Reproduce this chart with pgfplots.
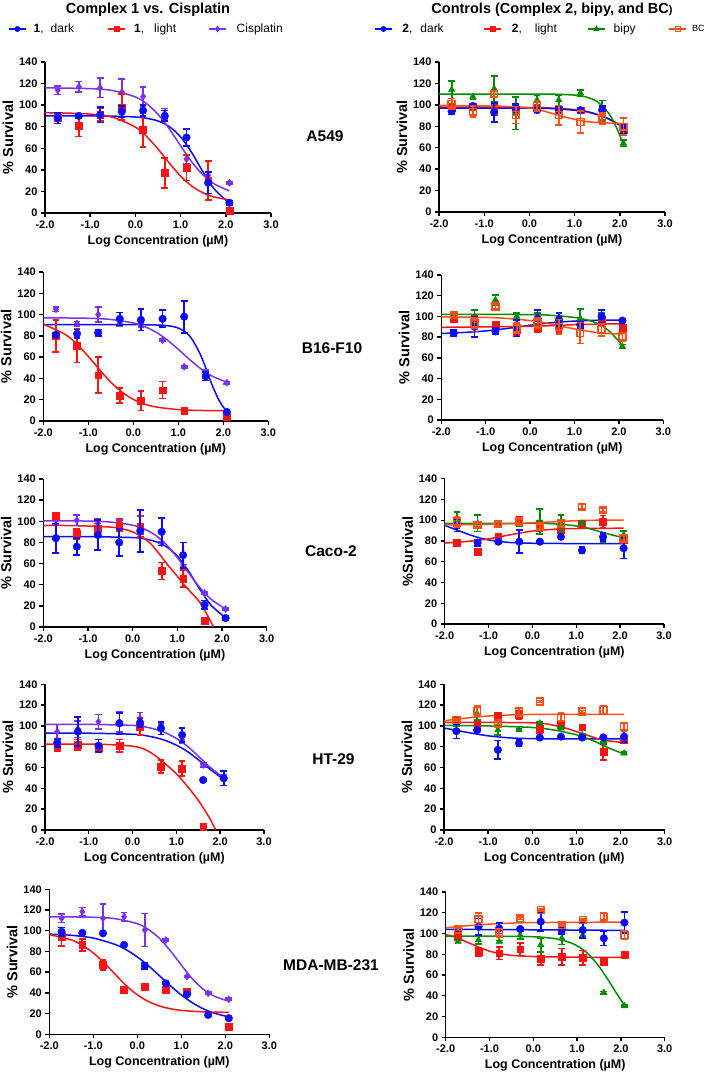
\documentclass[border=0pt]{standalone}
\usepackage{fontspec}
\setmainfont{Liberation Sans}
\usepackage{pgfplots}
\pgfplotsset{compat=1.18}
\definecolor{cB}{RGB}{10,10,255}
\definecolor{cR}{RGB}{250,20,20}
\definecolor{cP}{RGB}{120,50,240}
\definecolor{cG}{RGB}{0,140,0}
\definecolor{cO}{RGB}{255,80,20}
\pgfplotsset{
  panel/.style={scale only axis, anchor=south west, xmin=-2, xmax=3, ymin=0, ymax=140,
    xtick={-2,-1,0,1,2,3}, ytick={0,20,...,140},
    axis x line*=bottom, axis y line*=left,
    axis line style={line width=1.5pt, black, -},
    every outer x axis line/.append style={-}, every outer y axis line/.append style={-},
    every inner x axis line/.append style={-}, every inner y axis line/.append style={-},
    tick style={line width=1.4pt, black},
    major tick length=4pt, tick align=outside,
    tick label style={font=\bfseries\fontsize{11}{12}\selectfont},
    xticklabel style={/pgf/number format/.cd, fixed, fixed zerofill, precision=1},
    /pgf/number format/assume math mode=true,
    clip mode=individual,
    xlabel={Log Concentration (µM)}, ylabel={\% Survival},
    xlabel style={font=\bfseries\fontsize{12.5}{14}\selectfont, at={([yshift=-28pt]axis description cs:0.5,0)}, anchor=center},
    ylabel style={font=\bfseries\fontsize{14.5}{16}\selectfont, at={([xshift=-37pt]axis description cs:0,0.5)}, anchor=center},
    legend image code/.code={\draw[mark repeat=2,mark phase=2] plot coordinates {(0pt,0pt) (8.5pt,0pt) (17pt,0pt)};},
  },
  sb/.style={color=cB, mark=*, mark size=3.8pt},
  sr/.style={color=cR, mark=square*, mark size=3.4pt},
  sp/.style={color=cP, mark=diamond*, mark size=3.6pt},
  sg/.style={color=cG, mark=triangle*, mark size=3.8pt},
  so/.style={color=cO, mark=square, mark size=3.4pt, mark options={line width=1.6pt, fill=none}},
  pts/.style={only marks, forget plot, error bars/y dir=both, error bars/y explicit,
    error bars/error bar style={line width=1.7pt},
    error bars/error mark options={rotate=90, mark size=3.4pt, line width=1.7pt}},
  crv/.style={no marks, smooth, forget plot, line width=1.5pt},
  leg/.style={line width=1.5pt, mark size=2.2pt},
  legstyle/.style={legend columns=-1, legend cell align=left,
    legend style={at={(axis description cs:#1)}, anchor=west, draw=none, fill=none,
      inner sep=0pt, font=\fontsize{12}{14}\selectfont, nodes={inner sep=0pt},
      column sep=0pt, row sep=0pt}},
}
\begin{document}
\begin{tikzpicture}
% ---------------- Row 1: A549 ----------------
\begin{axis}[panel, at={(45pt,864pt)}, width=226pt, height=151pt, legstyle={-0.1637,1.2185}]
\addlegendimage{sb, leg}\addlegendentry{\makebox[81pt][l]{\hspace{7pt}\textbf{1},\hspace{7pt}dark}}
\addlegendimage{sr, leg}\addlegendentry{\makebox[82pt][l]{\hspace{8pt}\textbf{1},\hspace{10pt}light}}
\addlegendimage{sp, leg}\addlegendentry{\hspace{10pt}Cisplatin}
\addplot[sb, crv] coordinates {(-2,90)(-1.5,90)(-1,90)(-0.5,89.8)(0,89)(0.25,87.8)(0.5,85.3)(0.75,80.1)(1,70.6)(1.25,55.7)(1.5,37.8)(1.75,22)(2.08,9)};
\addplot[sr, crv] coordinates {(-2,93)(-1.5,92.6)(-1,91.7)(-0.5,88.7)(0,79.6)(0.25,70.9)(0.5,59.3)(0.75,46.3)(1,34.2)(1.25,24.9)(1.5,18.6)(1.75,14.8)(2.08,12.2)};
\addplot[sp, crv] coordinates {(-2,116)(-1,115.3)(-0.5,113.5)(0,107.6)(0.25,101.3)(0.5,91.5)(0.75,78)(1,62.3)(1.25,47.2)(1.5,35.1)(1.75,26.8)(2.08,20.5)};
\addplot[sp, pts] coordinates {(-1.72,114)+-(0,4) (-1.25,117)+-(0,5) (-0.78,116)+-(0,9) (-0.30,112)+-(0,12) (0.17,108)+-(0,9) (0.65,92)+-(0,5) (1.13,50)+-(0,4) (1.61,35)+-(0,3) (2.08,28)+-(0,1)};
\addplot[sr, pts] coordinates {(-1.72,88)+-(0,3) (-1.25,81)+-(0,10) (-0.78,91)+-(0,6) (-0.30,98)+-(0,12) (0.17,77)+-(0,16) (0.65,37)+-(0,14) (1.13,42)+-(0,12) (1.61,30)+-(0,18) (2.08,2)+-(0,1)};
\addplot[sb, pts] coordinates {(-1.72,88)+-(0,5) (-1.25,90)+-(0,2) (-0.78,91)+-(0,7) (-0.30,94)+-(0,5) (0.17,95)+-(0,5) (0.65,90)+-(0,5) (1.13,70)+-(0,8) (1.61,28)+-(0,10) (2.08,9.5)+-(0,2)};
\end{axis}
\begin{axis}[panel, at={(439pt,865pt)}, width=226pt, height=150pt, legstyle={-0.2876,1.22}]
\addlegendimage{sb, leg}\addlegendentry{\makebox[91pt][l]{\hspace{9.7pt}\textbf{2},\hspace{8pt}dark}}
\addlegendimage{sr, leg}\addlegendentry{\makebox[85pt][l]{\hspace{9.7pt}\textbf{2},\hspace{13pt}light}}
\addlegendimage{sg, leg}\addlegendentry{\makebox[63pt][l]{\hspace{8pt}bipy}}
\addlegendimage{so, leg, mark options={line width=1.2pt, fill=none}}\addlegendentry{\hspace{5pt}{\fontsize{9}{10}\selectfont BC}}
\addplot[sr, crv] coordinates {(-2,98)(0,97.5)(0.5,97)(1,95.5)(1.5,91)(1.75,87)(2,81)(2.08,79)};
\addplot[sb, crv] coordinates {(-2,97)(-1,97)(0,97)(0.5,96.5)(1,95)(1.25,94)(1.5,91)(1.75,87)(2,81)(2.08,79)};
\addplot[sg, crv] coordinates {(-2,110)(0,110)(0.5,110)(1,109.1)(1.25,107.4)(1.5,103)(1.75,92.4)(1.9,81.2)(2,71.6)(2.08,62.9)};
\addplot[so, crv] coordinates {(-2,99.5)(-1,99)(-0.5,98.5)(0,97)(0.25,95)(0.5,92)(0.75,89)(1,86.5)(1.25,84.5)(1.5,83.5)(2.08,82.5)};
\addplot[sr, pts] coordinates {(-1.72,97)+-(0,4) (-1.25,98)+-(0,2) (-0.78,95)+-(0,5) (-0.30,96)+-(0,3) (0.17,97)+-(0,3) (0.65,96)+-(0,3) (1.13,95)+-(0,2) (1.61,93)+-(0,4) (2.08,77)+-(0,3)};
\addplot[sg, pts] coordinates {(-1.72,114)+-(0,8) (-1.25,107.6)+-(0,2) (-0.78,115)+-(0,12) (-0.30,92)+-(0,15) (0.17,104.5)+-(0,5) (0.65,104.5)+-(0,5) (1.13,110.8)+-(0,3) (1.61,95)+-(0,9) (2.08,64)+-(0,3)};
\addplot[sb, pts] coordinates {(-1.72,94)+-(0,3) (-1.25,99)+-(0,2) (-0.78,93)+-(0,9) (-0.30,97)+-(0,4) (0.17,95)+-(0,2) (0.65,95)+-(0,3) (1.13,95)+-(0,2) (1.61,95)+-(0,4) (2.08,78)+-(0,4)};
\addplot[so, pts] coordinates {(-1.72,101)+-(0,5) (-1.25,93.6)+-(0,5) (-0.78,110)+-(0,3) (-0.30,90.5)+-(0,8) (0.17,99)+-(0,5) (0.65,90.5)+-(0,9) (1.13,84)+-(0,10) (1.61,87.4)+-(0,5) (2.08,79.6)+-(0,8)};
\end{axis}
% ---------------- Row 2: B16-F10 ----------------
\begin{axis}[panel, at={(43.3pt,656pt)}, width=225pt, height=149pt]
\addplot[sb, crv] coordinates {(-2,90.5)(0,90.5)(0.5,90.2)(0.75,89.6)(1,87.3)(1.25,80)(1.5,61.6)(1.75,34)(1.9,19.9)(2,13.1)(2.08,9.2)};
\addplot[sr, crv] coordinates {(-2,91.2)(-1.5,81)(-1.25,72.1)(-1,60.7)(-0.75,48.2)(-0.5,36.5)(-0.25,27.1)(0,20.3)(0.25,15.9)(0.5,13.2)(1,10.7)(1.5,9.9)(2.08,9.6)};
\addplot[sp, crv] coordinates {(-2,97)(-1,96.5)(-0.5,95.4)(0,92.1)(0.25,88.7)(0.5,83.6)(0.75,76.3)(1,67.3)(1.25,57.8)(1.5,49.1)(1.75,42.2)(2.08,36.4)};
\addplot[sp, pts] coordinates {(-1.72,105)+-(0,2) (-1.25,91.5)+-(0,2) (-0.78,100)+-(0,7) (-0.30,92)+-(0,3) (0.17,90)+-(0,2) (0.65,76)+-(0,1) (1.13,51)+-(0,1) (1.61,44)+-(0,4) (2.08,36)+-(0,1)};
\addplot[sr, pts] coordinates {(-1.72,80)+-(0,15) (-1.25,71)+-(0,16) (-0.78,43)+-(0,17) (-0.30,24)+-(0,7) (0.17,19)+-(0,9) (0.65,29)+-(0,8) (1.13,10)+-(0,2) (2.08,4)+-(0,2)};
\addplot[sb, pts] coordinates {(-1.72,81)+-(0,2) (-1.25,82)+-(0,4) (-0.78,83)+-(0,3) (-0.30,96)+-(0,6) (0.17,95)+-(0,10) (0.65,96)+-(0,8) (1.13,98)+-(0,15) (1.61,42)+-(0,4) (2.08,8.5)+-(0,1)};
\end{axis}
\begin{axis}[panel, at={(441.3pt,657pt)}, width=222pt, height=145pt]
\addplot[sb, crv] coordinates {(-2,83.5)(-1.5,84.5)(-1,86)(-0.5,88.5)(0,91.5)(0.5,94)(1,95.5)(1.5,96.3)(2.08,96.5)};
\addplot[sr, crv] coordinates {(-2,89.5)(0,90.5)(1,92)(2.08,93)};
\addplot[sg, crv] coordinates {(-2,102)(0,101.8)(0.5,101)(1,99)(1.25,97)(1.5,93.5)(1.75,87)(2,76)(2.08,71)};
\addplot[so, crv] coordinates {(-2,99.5)(-1,99)(-0.5,98)(0,96)(0.25,94.5)(0.5,92.5)(0.75,90)(1,88)(1.25,86)(1.5,84.5)(1.75,83.5)(2.08,83)};
\addplot[sr, pts] coordinates {(-1.72,98)+-(0,3) (-1.25,93.5)+-(0,8) (-0.78,92)+-(0,2) (-0.30,87)+-(0,5) (0.17,89)+-(0,4) (0.65,90)+-(0,5) (1.13,92)+-(0,2) (1.61,97)+-(0,5) (2.08,89)+-(0,5)};
\addplot[sg, pts] coordinates {(-1.72,100.6)+-(0,2) (-1.25,100)+-(0,6) (-0.78,116)+-(0,5) (-0.30,100)+-(0,3) (0.17,97)+-(0,6) (0.65,97)+-(0,4) (1.13,98)+-(0,9) (1.61,100)+-(0,3) (2.08,71)+-(0,2)};
\addplot[sb, pts] coordinates {(-1.72,84)+-(0,3) (-1.25,90)+-(0,10) (-0.78,85.5)+-(0,3) (-0.30,88.7)+-(0,8) (0.17,98)+-(0,8) (0.65,97)+-(0,6) (1.13,92)+-(0,3) (1.61,100)+-(0,6) (2.08,96)+-(0,1)};
\addplot[so, pts] coordinates {(-1.72,101.6)+-(0,2) (-1.25,93.5)+-(0,5) (-0.78,109.7)+-(0,2) (-0.30,88.7)+-(0,5) (0.17,93.5)+-(0,5) (0.65,90)+-(0,7) (1.13,84)+-(0,10) (1.61,87)+-(0,6) (2.08,80.6)+-(0,4)};
\end{axis}
% ---------------- Row 3: Caco-2 ----------------
\begin{axis}[panel, at={(43.3pt,450pt)}, width=223.4pt, height=148pt]
\addplot[sb, crv] coordinates {(-2,85.5)(-1,85.5)(0,84.6)(0.25,83.5)(0.5,81)(0.75,76.1)(1,67.1)(1.25,52.9)(1.5,35.9)(1.75,20.9)(2.08,8.6)};
\addplot[sr, crv] coordinates {(-2,96)(-1.5,96)(-1,95.5)(-0.5,94.5)(-0.25,93)(0,90)(0.25,84)(0.4,79)(0.6,69)(0.76,60)(1,48)(1.13,41)(1.3,33)(1.51,23)(1.7,9)(1.81,0)(1.9,-6)};
\addplot[sp, crv] coordinates {(-2,100.5)(-1,100.2)(-0.5,99.3)(0,96.3)(0.25,92.9)(0.5,87.1)(0.75,78.1)(1,65.7)(1.25,51.3)(1.5,37.5)(1.75,26.4)(2.08,17)};
\addplot[sp, pts] coordinates {(-1.72,101)+-(0,4) (-1.25,101)+-(0,5) (-0.78,98)+-(0,4) (-0.30,99.5)+-(0,3) (0.17,92)+-(0,4) (0.65,79)+-(0,2) (1.13,57)+-(0,2) (1.61,32)+-(0,1) (2.08,17)+-(0,1)};
\addplot[sr, pts] coordinates {(-1.72,105)+-(0,3) (-1.25,88)+-(0,5) (-0.78,93)+-(0,5) (-0.30,96)+-(0,5) (0.17,95)+-(0,10) (0.65,53)+-(0,8) (1.13,46)+-(0,8) (1.61,6)+-(0,2)};
\addplot[sb, pts] coordinates {(-1.72,84)+-(0,14) (-1.25,76)+-(0,8) (-0.78,87)+-(0,14) (-0.30,80)+-(0,13) (0.17,91)+-(0,20) (0.65,90)+-(0,13) (1.13,68)+-(0,12) (1.61,21)+-(0,4) (2.08,8.5)+-(0,2)};
\end{axis}
\begin{axis}[panel, at={(444.7pt,453pt)}, width=219.3pt, height=145.3pt, ylabel={\%Survival}]
\addplot[sb, crv] coordinates {(-2,95)(-1.75,91)(-1.5,87)(-1.25,83.5)(-1,81)(-0.75,79.5)(-0.5,78.5)(0,77.8)(1,77.5)(2.08,77.5)};
\addplot[sr, crv] coordinates {(-2,78)(-1.5,79.5)(-1,82)(-0.5,86)(0,89.5)(0.5,91.3)(1,92)(2.08,92.3)};
\addplot[sg, crv] coordinates {(-2,97)(0,97)(0.5,96.5)(1,94.5)(1.25,92.5)(1.5,89.5)(1.75,86.5)(2.08,83)};
\addplot[so, crv] coordinates {(-2,95.5)(-1,96)(0,97.5)(0.5,98.5)(1,99.5)(1.5,100)(2.08,100)};
\addplot[sr, pts] coordinates {(-1.72,78.4)+-(0,2) (-1.25,69.7)+-(0,1) (-0.78,84)+-(0,1) (-0.30,100)+-(0,3) (0.17,94.4)+-(0,5) (0.65,91.2)+-(0,5) (1.13,96.3)+-(0,1) (1.61,98.6)+-(0,6) (2.08,81)+-(0,8)};
\addplot[sg, pts] coordinates {(-1.72,100)+-(0,8) (-1.25,97)+-(0,8) (-0.78,96.3)+-(0,1) (-0.30,95.4)+-(0,1) (0.17,98.6)+-(0,12) (0.65,97)+-(0,8) (1.13,97)+-(0,1) (1.61,82.5)+-(0,4) (2.08,85.7)+-(0,4)};
\addplot[sb, pts] coordinates {(-1.72,95)+-(0,6) (-1.25,78.4)+-(0,3) (-0.78,79.3)+-(0,1) (-0.30,79.3)+-(0,11) (0.17,79.3)+-(0,1) (0.65,84)+-(0,1) (1.13,71)+-(0,3) (1.61,84)+-(0,4) (2.08,73)+-(0,10)};
\addplot[so, pts] coordinates {(-1.72,98.6)+-(0,5) (-1.25,95.4)+-(0,2) (-0.78,96.3)+-(0,2) (-0.30,98.6)+-(0,2) (0.17,93.8)+-(0,2) (0.65,97)+-(0,2) (1.13,113)+-(0,2) (1.61,109.8)+-(0,2) (2.08,82.5)+-(0,3)};
\end{axis}
% ---------------- Row 4: HT-29 ----------------
\begin{axis}[panel, at={(45pt,247pt)}, width=219pt, height=145.7pt]
\addplot[sb, crv] coordinates {(-2,93)(-1,93)(0,92)(0.25,91)(0.5,89)(0.75,86)(1,81.5)(1.25,75.5)(1.5,67.5)(1.75,59)(2.08,48.5)};
\addplot[sr, crv] coordinates {(-2,82.5)(-1,82.5)(-0.5,82)(0,80.5)(0.25,78)(0.5,72)(0.75,63.5)(1,54)(1.25,42)(1.5,28.5)(1.75,12)(1.9,0)(2,-8)};
\addplot[sp, crv] coordinates {(-2,101.5)(-1,101.5)(0,100.5)(0.25,99.3)(0.5,97)(0.75,93.5)(1,88)(1.25,80.5)(1.5,71)(1.75,61)(2.08,50)};
\addplot[sp, pts] coordinates {(-1.72,94.5)+-(0,7) (-1.25,97)+-(0,8) (-0.78,104)+-(0,7) (-0.30,104)+-(0,10) (0.17,107)+-(0,6) (0.65,98.7)+-(0,3) (1.13,86.5)+-(0,3) (1.61,62.5)+-(0,2) (2.08,51.3)+-(0,2)};
\addplot[sr, pts] coordinates {(-1.72,79)+-(0,3) (-1.25,82)+-(0,5) (-0.78,79)+-(0,4) (-0.30,81)+-(0,6) (0.17,99.5)+-(0,8) (0.65,61)+-(0,6) (1.13,59)+-(0,7) (1.61,3.2)+-(0,1)};
\addplot[sb, pts] coordinates {(-1.72,84)+-(0,4) (-1.25,94.5)+-(0,14) (-0.78,81)+-(0,6) (-0.30,102.5)+-(0,10) (0.17,103)+-(0,4) (0.65,97.7)+-(0,6) (1.13,91.3)+-(0,7) (1.61,48)+-(0,1) (2.08,49.7)+-(0,7)};
\end{axis}
\begin{axis}[panel, at={(444pt,247pt)}, width=220.7pt, height=145.7pt]
\addplot[sb, crv] coordinates {(-2,98)(-1.5,94)(-1,90.5)(-0.5,88.5)(0,87.8)(1,87.5)(2.08,87.5)};
\addplot[sr, crv] coordinates {(-2,103.5)(0,103)(0.5,100.5)(0.75,98)(1,94.5)(1.25,91)(1.5,87.5)(1.75,85.5)(2.08,84)};
\addplot[sg, crv] coordinates {(-2,100.5)(-1,100)(0,98.5)(0.5,96)(1,91.5)(1.25,88)(1.5,83.5)(1.75,78.5)(2.08,73)};
\addplot[so, crv] coordinates {(-2,105)(-1.5,107.5)(-1,109.5)(-0.5,110.5)(0,111)(2.08,111)};
\addplot[sr, pts] coordinates {(-1.72,105.7)+-(0,1) (-1.25,102.5)+-(0,3) (-0.78,109.6)+-(0,1) (-0.30,110.5)+-(0,4) (0.17,97.7)+-(0,5) (0.65,101)+-(0,3) (1.13,98.7)+-(0,1) (1.61,75.3)+-(0,8) (2.08,86.5)+-(0,1)};
\addplot[sg, pts] coordinates {(-1.72,101)+-(0,1) (-1.25,112)+-(0,6) (-0.78,96)+-(0,5) (-0.30,96)+-(0,1) (0.17,102.5)+-(0,1) (0.65,97.7)+-(0,1) (1.13,91.3)+-(0,1) (1.61,83.3)+-(0,1) (2.08,73.7)+-(0,1)};
\addplot[sb, pts] coordinates {(-1.72,95)+-(0,7) (-1.25,96)+-(0,1) (-0.78,77)+-(0,9) (-0.30,83.3)+-(0,3) (0.17,88.8)+-(0,1) (0.65,89.7)+-(0,1) (1.13,88.8)+-(0,1) (1.61,89)+-(0,1) (2.08,89.7)+-(0,5)};
\addplot[so, pts] coordinates {(-1.72,105.7)+-(0,1) (-1.25,114.4)+-(0,5) (-0.78,102.5)+-(0,1) (-0.30,113.7)+-(0,4) (0.17,123.4)+-(0,1) (0.65,108.3)+-(0,4) (1.13,113.7)+-(0,1) (1.61,115.3)+-(0,4) (2.08,99.3)+-(0,4)};
\end{axis}
% ---------------- Row 5: MDA-MB-231 ----------------
\begin{axis}[panel, at={(49.3pt,42.7pt)}, width=220pt, height=145pt]
\addplot[sb, crv] coordinates {(-2,96.7)(-1.5,95.6)(-1,92.9)(-0.5,86.7)(-0.25,81.6)(0,74.7)(0.25,66.3)(0.5,56.7)(0.75,47)(1,38)(1.25,30.5)(1.5,24.6)(1.75,20.4)(2.08,16.8)};
\addplot[sr, crv] coordinates {(-2,96.3)(-1.5,91.1)(-1.25,86)(-1,78.6)(-0.75,68.8)(-0.5,57.8)(-0.25,47)(0,38.1)(0.25,31.7)(0.5,27.4)(0.75,24.7)(1,23.1)(1.5,21.7)(2.08,21.2)};
\addplot[sp, crv] coordinates {(-2,113.5)(-1,113)(-0.5,111.6)(0,106.8)(0.25,101.3)(0.5,92.8)(0.75,80.7)(1,66.9)(1.25,53.7)(1.5,43.5)(1.75,36.8)(2.08,31.9)};
\addplot[sp, pts] coordinates {(-1.72,112)+-(0,4) (-1.25,118.4)+-(0,4) (-0.78,112)+-(0,14) (-0.30,113.6)+-(0,4) (0.17,100.7)+-(0,16) (0.65,91)+-(0,1) (1.13,55.7)+-(0,1) (1.61,39.6)+-(0,1) (2.08,33.8)+-(0,1)};
\addplot[sr, pts] coordinates {(-1.72,94)+-(0,9) (-1.25,86.3)+-(0,6) (-0.78,67)+-(0,5) (-0.30,42.8)+-(0,1) (0.17,46)+-(0,3) (0.65,43.4)+-(0,1) (1.13,41.2)+-(0,2) (2.08,7.4)+-(0,1)};
\addplot[sb, pts] coordinates {(-1.72,99)+-(0,4) (-1.25,98)+-(0,1) (-0.78,97.5)+-(0,1) (-0.30,86.3)+-(0,1) (0.17,66)+-(0,3) (0.65,49.2)+-(0,1) (1.13,38.6)+-(0,2) (1.61,18.7)+-(0,1) (2.08,15.5)+-(0,1)};
\end{axis}
\begin{axis}[panel, at={(445.7pt,39.7pt)}, width=219pt, height=145.3pt]
\addplot[sb, crv] coordinates {(-2,104)(0,103.6)(2.08,103)};
\addplot[sr, crv] coordinates {(-2,99)(-1.75,96)(-1.5,91.5)(-1.25,87)(-1,83)(-0.75,80.5)(-0.5,79)(0,77.8)(1,77.2)(2.08,77)};
\addplot[sg, crv] coordinates {(-2,97.5)(-1,97.5)(0,96.9)(0.25,96.2)(0.5,95)(0.75,92.6)(1,88.2)(1.25,80.4)(1.5,68.3)(1.75,52.6)(1.9,42.4)(2.08,31)};
\addplot[so, crv] coordinates {(-2,105.5)(-1.5,107.5)(-1,109)(-0.5,110)(0,110.5)(2.08,111)};
\addplot[sr, pts] coordinates {(-1.72,97)+-(0,1) (-1.25,82.5)+-(0,4) (-0.78,81)+-(0,6) (-0.30,84.8)+-(0,6) (0.17,76)+-(0,6) (0.65,77.7)+-(0,8) (1.13,76.7)+-(0,7) (1.61,72.9)+-(0,1) (2.08,79.3)+-(0,1)};
\addplot[sg, pts] coordinates {(-1.72,92.2)+-(0,1) (-1.25,93.8)+-(0,4) (-0.78,92.2)+-(0,1) (-0.30,98.6)+-(0,4) (0.17,89)+-(0,7) (0.65,95.4)+-(0,6) (1.13,98.6)+-(0,3) (1.61,43)+-(0,1) (2.08,30.2)+-(0,1)};
\addplot[sb, pts] coordinates {(-1.72,103.4)+-(0,1) (-1.25,106.6)+-(0,8) (-0.78,105)+-(0,5) (-0.30,104.4)+-(0,1) (0.17,111.4)+-(0,9) (0.65,103.4)+-(0,4) (1.13,103.4)+-(0,8) (1.61,95.4)+-(0,7) (2.08,110.5)+-(0,10)};
\addplot[so, pts] coordinates {(-1.72,104)+-(0,1) (-1.25,113.7)+-(0,6) (-0.78,100.8)+-(0,4) (-0.30,114.6)+-(0,1) (0.17,122.7)+-(0,1) (0.65,108.2)+-(0,1) (1.13,113)+-(0,1) (1.61,116.2)+-(0,4) (2.08,98.6)+-(0,4)};
\end{axis}
% ---------------- texts ----------------
\node[font=\bfseries\fontsize{14.5}{16}\selectfont, anchor=base] at (148pt,1063.7pt) {Complex 1 vs. Cisplatin};
\node[font=\bfseries\fontsize{14.5}{16}\selectfont, anchor=base] at (552pt,1063pt) {Controls (Complex 2, bipy, and BC{\fontsize{11}{12}\selectfont)}};
\node[font=\bfseries\fontsize{15.5}{17}\selectfont, anchor=base] at (325pt,935.3pt) {A549};
\node[font=\bfseries\fontsize{15.5}{17}\selectfont, anchor=base] at (332pt,723.7pt) {B16-F10};
\node[font=\bfseries\fontsize{15.5}{17}\selectfont, anchor=base] at (331pt,520.3pt) {Caco-2};
\node[font=\bfseries\fontsize{15.5}{17}\selectfont, anchor=base] at (333.5pt,312pt) {HT-29};
\node[font=\bfseries\fontsize{15.5}{17}\selectfont, anchor=base] at (331pt,106.3pt) {MDA-MB-231};
\pgfresetboundingbox
\path[use as bounding box] (0pt,0pt) rectangle (708pt,1077pt);
\end{tikzpicture}
\end{document}
